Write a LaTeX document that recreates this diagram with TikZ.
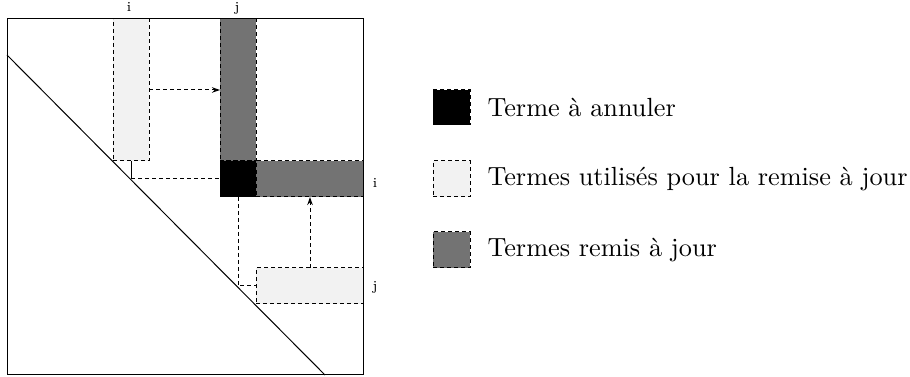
\documentclass[tikz,border=0pt]{standalone}
\usetikzlibrary{fit,arrows.meta}
\definecolor{lightg}{RGB}{242,242,242}
\definecolor{darkg}{RGB}{115,115,115}
\tikzset{
  dsh/.style={dash pattern=on 1.6pt off 1.2pt, line width=0.4pt},
  box/.style={draw, dsh, inner sep=0pt, outer sep=0pt},
  lightbox/.style={box, fill=lightg},
  darkbox/.style={box, fill=darkg},
  blackbox/.style={box, fill=black},
  lab/.style={font=\fontsize{5.5}{6.5}\selectfont, inner sep=0pt},
  legtxt/.style={font=\fontsize{10.5}{12.5}\selectfont, anchor=west, inner sep=0pt},
  tip/.style={-{Stealth[length=3.2pt,width=2.2pt]}}
}
\begin{document}
\begin{tikzpicture}[x=0.4pt,y=-0.4pt]
\useasboundingbox (0,0) rectangle (910,377);
% matrix frame and diagonal
\node[draw, line width=0.4pt, inner sep=0pt, fit={(7,19) (363,375)}] (frame) {};
\coordinate (dtop) at (7,55);
\coordinate (dbot) at (325,375);
\draw[line width=0.4pt] (dtop) -- (dbot);
% blocks
\node[lightbox, fit={(113,19) (149,161)}] (ci) {};
\node[darkbox, fit={(220,19) (256,161)}] (cj) {};
\node[blackbox, fit={(220,161) (256,197)}] (blk) {};
\node[darkbox, fit={(256,161) (363,197)}] (ri) {};
\node[lightbox, fit={(256,268) (363,304)}] (rj) {};
% labels
\node[lab] (li) at (129,7) {i};
\node[lab] (lj) at (237,8) {j};
\node[lab] (ri2) at (375,183) {i};
\node[lab] (rj2) at (375,287) {j};
% connectors
\coordinate (d1) at (131,179);
\coordinate (d2) at (238,286);
\draw[line width=0.4pt] (ci.south -| d1) -- (d1);
\draw[dsh] (d1) -- (blk.west);
\draw[dsh] (blk.south -| d2) -- (d2) -- (rj.west);
\coordinate (a1) at (149,90);
\draw[dsh, tip] (a1) -- (cj.west |- a1);
\coordinate (a2) at (310,268);
\draw[dsh, tip] (a2) -- (ri.south -| a2);
% legend
\node[blackbox, fit={(433,90) (470,125)}] (lg1) {};
\node[lightbox, fit={(433,161) (470,197)}] (lg2) {};
\node[darkbox, fit={(433,232) (470,268)}] (lg3) {};
\node[legtxt] (t1) at (487,107) {Terme à annuler};
\node[legtxt] (t2) at (487,179) {Termes utilisés pour la remise à jour};
\node[legtxt] (t3) at (487,250) {Termes remis à jour};
\end{tikzpicture}
\end{document}
